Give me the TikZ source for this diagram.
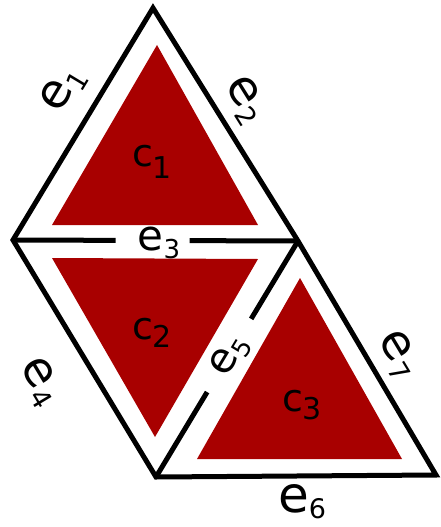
\documentclass[tikz,border=0pt]{standalone}
\usepackage{fontspec}
\setmainfont{DejaVu Sans}
\usetikzlibrary{calc}
\definecolor{cellred}{RGB}{168,0,0}
\newcommand{\sublab}[5]{\fontsize{#3}{#3}\selectfont #1\raisebox{-#5}{\fontsize{#4}{#4}\selectfont #2}}
\begin{document}
\begin{tikzpicture}[x=1pt,y=-1pt,
  edge/.style={line width=5pt,line join=miter,black},
  cell/.style={fill=cellred,draw=none},
  lab/.style={inner sep=0pt,text=black}]
\useasboundingbox (0,0) rectangle (441,527);
\coordinate (A) at (153,8);
\coordinate (B) at (13,240);
\coordinate (C) at (298,241);
\coordinate (D) at (156,477);
\coordinate (E) at (436,475);
% cells
\fill[cell] (157,45) -- (52,225) -- (258,225) -- cycle;
\fill[cell] (52,258) -- (258,259) -- (155,437) -- cycle;
\fill[cell] (300,278) -- (197,459) -- (402,459) -- cycle;
% edges
\draw[edge] (A) -- (B) -- (D) -- (E) -- (C) -- cycle;
\coordinate (g3a) at ($(B)!0.36!(C)$);
\coordinate (g3b) at ($(B)!0.62!(C)$);
\draw[edge] (B) -- (g3a);
\draw[edge] (g3b) -- (C);
\coordinate (g5a) at ($(C)!0.33!(D)$);
\coordinate (g5b) at ($(C)!0.64!(D)$);
\draw[edge] (C) -- (g5a);
\draw[edge] (g5b) -- (D);
% labels
\node[lab,rotate=59] (e1) at (63,90) {\sublab{e}{1}{48}{27}{8pt}};
\node[lab,rotate=-58] (e2) at (245,100) {\sublab{e}{2}{48}{27}{8pt}};
\node[lab] (e3) at (159,243) {\sublab{e}{3}{42}{26}{8pt}};
\node[lab,rotate=-59] (e4) at (40,382) {\sublab{e}{4}{48}{27}{8pt}};
\node[lab,rotate=59] (e5) at (230,356) {\sublab{e}{5}{42}{25}{7pt}};
\node[lab] (e6) at (302,502) {\sublab{e}{6}{50}{27}{6pt}};
\node[lab,rotate=-59] (e7) at (398,355) {\sublab{e}{7}{48}{27}{8pt}};
\node[lab] (c1) at (152,162) {\sublab{c}{1}{38}{30}{12pt}};
\node[lab] (c2) at (152,333) {\sublab{c}{2}{38}{30}{8pt}};
\node[lab] (c3) at (302,405) {\sublab{c}{3}{38}{30}{8pt}};
\end{tikzpicture}
\end{document}
